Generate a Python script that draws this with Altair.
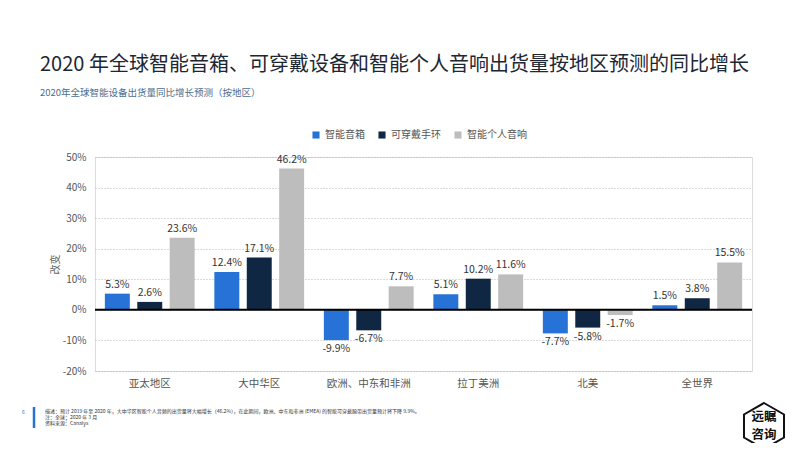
import altair as alt
import pandas as pd

regions = ["亚太地区", "大中华区", "欧洲、中东和非洲", "拉丁美洲", "北美", "全世界"]
series = ["智能音箱", "可穿戴手环", "智能个人音响"]
speaker = [5.3, 12.4, -9.9, 5.1, -7.7, 1.5]
wearable = [2.6, 17.1, -6.7, 10.2, -5.8, 3.8]
personal = [23.6, 46.2, 7.7, 11.6, -1.7, 15.5]
colors = ["#2772D6", "#0F2742", "#BDBDBD"]
y_ticks = [-20, -10, 0, 10, 20, 30, 40, 50]

title_text = "2020 年全球智能音箱、可穿戴设备和智能个人音响出货量按地区预测的同比增长"
subtitle_text = "2020年全球智能设备出货量同比增长预测（按地区）"
footer_lines = [
    "描述：预计 2019 年至 2020 年，大中华区智能个人音频的出货量将大幅增长（46.2%），在此期间，欧洲、中东和非洲 (EMEA) 的智能可穿戴腕带出货量预计将下降 9.9%。",
    "注：全球；2020 年 3 月",
    "资料来源：Canalys",
]

FONT = "Noto Sans CJK SC"

rows = []
for s, vals in zip(series, [speaker, wearable, personal]):
    for r, v in zip(regions, vals):
        rows.append({"region": r, "series": s, "v": v})
df = pd.DataFrame(rows)

xenc = alt.X("region:N", sort=regions, title=None,
             scale=alt.Scale(paddingInner=0.18, paddingOuter=0.09),
             axis=alt.Axis(labelAngle=0, domain=False, ticks=False, labelPadding=7,
                           labelFontSize=10.5, labelColor="#555555", labelFont=FONT))
yaxis = alt.Axis(values=y_ticks, labelExpr="datum.value + '%'",
                 domain=False, ticks=False, labelPadding=9, labelFontSize=10,
                 labelColor="#555555", labelFont=FONT, labelOverlap=False,
                 gridDash=[1, 2], gridColor="#b5b5b5", gridWidth=1,
                 titleFont=FONT, titleFontSize=10, titleColor="#666666",
                 titleFontWeight="normal", titleX=-35, titleY=107, titleAngle=-90)
yenc = alt.Y("v:Q", scale=alt.Scale(domain=[-20, 50], nice=False, zero=False),
             title="改变", axis=yaxis)
xoff = alt.XOffset("series:N", sort=series, scale=alt.Scale(paddingInner=0.23, paddingOuter=0))

base = alt.Chart(df)
lab_expr = "replace(format(datum.v, '.1f'), '\u2212', '-') + '%'"

bars = base.mark_bar().encode(
    x=xenc,
    xOffset=xoff,
    y=yenc,
    color=alt.Color("series:N", sort=series,
                    scale=alt.Scale(domain=series, range=colors),
                    legend=alt.Legend(title=None, orient="none", direction="horizontal",
                                      legendX=216, legendY=-27, symbolType="square",
                                      symbolSize=50, symbolStrokeWidth=0,
                                      labelFont=FONT, labelFontSize=10, labelColor="#555555",
                                      columnPadding=12, labelOffset=4, padding=0)),
)

lab_pos = base.transform_filter("datum.v >= 0").transform_calculate(
    lab=lab_expr
).mark_text(baseline="bottom", dy=-4, font=FONT, fontSize=10.5, color="#333333").encode(
    x=xenc, xOffset=xoff, y=yenc, text="lab:N")

lab_neg = base.transform_filter("datum.v < 0").transform_calculate(
    lab=lab_expr
).mark_text(baseline="top", dy=4, font=FONT, fontSize=10.5, color="#333333").encode(
    x=xenc, xOffset=xoff, y=yenc, text="lab:N")

zero = alt.Chart(pd.DataFrame({"v": [0]})).mark_rule(color="#000000", strokeWidth=2).encode(
    y=yenc)

title = alt.Chart(pd.DataFrame({"t": [title_text]})).mark_text(
    align="left", baseline="middle", font=FONT, fontSize=20, color="#1c2733"
).encode(x=alt.value(-55), y=alt.value(-92), text="t:N")

subtitle = alt.Chart(pd.DataFrame({"t": [subtitle_text]})).mark_text(
    align="left", baseline="middle", font=FONT, fontSize=9.5, color="#4d6d8f"
).encode(x=alt.value(-55), y=alt.value(-64), text="t:N")

page = alt.Chart(pd.DataFrame({"t": ["6"]})).mark_text(
    align="left", baseline="middle", font=FONT, fontSize=5, color="#2772D6"
).encode(x=alt.value(-73), y=alt.value(255), text="t:N")

bluebar = alt.Chart(pd.DataFrame({"t": [1]})).mark_rule(color="#2772D6", strokeWidth=2.5).encode(
    x=alt.value(-61), y=alt.value(250), y2=alt.value(271))

foot_df = pd.DataFrame({"t": footer_lines, "yy": [254, 260, 266]})
footer = alt.Chart(foot_df).mark_text(
    align="left", baseline="middle", font=FONT, fontSize=5, color="#333333"
).encode(x=alt.value(-50), y=alt.Y("yy:Q", scale=None), text="t:N")

hexagon = alt.Chart(pd.DataFrame({"t": [1]})).mark_point(
    shape="M0,-1L0.87,-0.5L0.87,0.5L0,1L-0.87,0.5L-0.87,-0.5Z",
    size=2116, filled=False, stroke="#111111", strokeWidth=2, fill="#ffffff", opacity=1
).encode(x=alt.value(669), y=alt.value(269))

logo_df = pd.DataFrame({"t": ["远瞩", "咨询"], "yy": [260, 278]})
logo = alt.Chart(logo_df).mark_text(
    align="center", baseline="middle", font=FONT, fontSize=12.5, fontWeight="bold", color="#111111"
).encode(x=alt.value(669), y=alt.Y("yy:Q", scale=None), text="t:N")

chart = alt.layer(
    bars, lab_pos, lab_neg, zero, title, subtitle, page, bluebar, footer, hexagon, logo
).properties(
    width=657, height=214,
    padding={"left": 87, "top": 149, "right": 42, "bottom": 72},
    autosize=alt.AutoSizeParams(type="none"),
).configure_view(stroke=None).configure(background="#ffffff")

chart.save("out.html", embed_options={"renderer": "svg", "actions": False})
